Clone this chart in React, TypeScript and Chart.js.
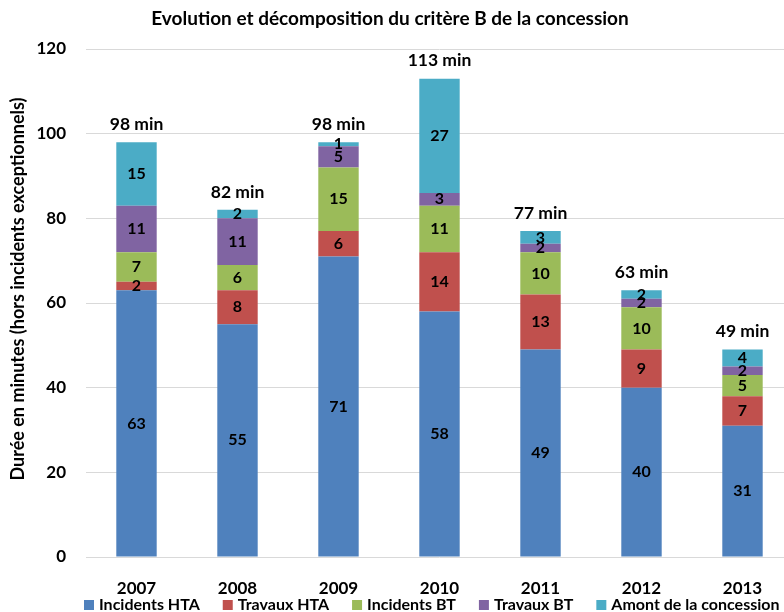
import React, { useEffect, useRef } from "react";
import { Chart, registerables } from "chart.js";

Chart.register(...registerables);

const years = ["2007", "2008", "2009", "2010", "2011", "2012", "2013"];
const incidentsHTA = [63, 55, 71, 58, 49, 40, 31];
const travauxHTA = [2, 8, 6, 14, 13, 9, 7];
const incidentsBT = [7, 6, 15, 11, 10, 10, 5];
const travauxBT = [11, 11, 5, 3, 2, 2, 2];
const amont = [15, 2, 1, 27, 3, 2, 4];
const totals = [98, 82, 98, 113, 77, 63, 49];
const yTicks = [0, 20, 40, 60, 80, 100, 120];

const seriesNames = ["Incidents HTA", "Travaux HTA", "Incidents BT", "Travaux BT", "Amont de la concession"];
const seriesColors = ["#4F81BD", "#C0504D", "#9BBB59", "#8064A2", "#4BACC6"];
const seriesData = [incidentsHTA, travauxHTA, incidentsBT, travauxBT, amont];

const chartTitle = "Evolution et décomposition du critère B de la concession";
const yTitle = "Durée en minutes (hors incidents exceptionnels)";
const FONT = "Lato, 'Open Sans', sans-serif";

const overlayPlugin = {
  id: "overlay",
  afterDatasetsDraw(chart: any) {
    const ctx = chart.ctx;
    ctx.save();
    ctx.fillStyle = "#000";
    ctx.textAlign = "center";
    ctx.textBaseline = "middle";
    ctx.font = `bold 16px ${FONT}`;
    chart.data.datasets.forEach((ds: any, di: number) => {
      const meta = chart.getDatasetMeta(di);
      meta.data.forEach((bar: any, i: number) => {
        const v = ds.data[i];
        const yMid = (bar.y + bar.base) / 2;
        ctx.fillText(String(v), bar.x, yMid);
      });
    });
    const yScale = chart.scales.y;
    const meta0 = chart.getDatasetMeta(0);
    ctx.font = `bold 17.5px ${FONT}`;
    totals.forEach((t, i) => {
      const x = meta0.data[i].x;
      const y = yScale.getPixelForValue(t) - 18;
      ctx.fillText(`${t} min`, x, y);
    });
    ctx.restore();
  },
  afterDraw(chart: any) {
    const ctx = chart.ctx;
    ctx.save();
    ctx.fillStyle = "#000";
    ctx.font = `bold 19px ${FONT}`;
    ctx.textAlign = "center";
    ctx.textBaseline = "middle";
    ctx.fillText(chartTitle, 390, 19);
    ctx.save();
    ctx.translate(18, 289);
    ctx.rotate(-Math.PI / 2);
    ctx.font = `bold 18px ${FONT}`;
    ctx.fillText(yTitle, 0, 0);
    ctx.restore();
    ctx.font = `bold 16px ${FONT}`;
    ctx.textAlign = "left";
    let x = 84;
    const y = 605;
    seriesNames.forEach((name, i) => {
      ctx.fillStyle = seriesColors[i];
      ctx.fillRect(x, y - 5, 10, 10);
      ctx.fillStyle = "#000";
      ctx.fillText(name, x + 15, y);
      x += 15 + ctx.measureText(name).width + 23;
    });
    ctx.restore();
  },
};

export default function App() {
  const ref = useRef<HTMLCanvasElement>(null);
  useEffect(() => {
    document.body.style.margin = "0";
    document.body.style.overflow = "hidden";
    const chart = new Chart(ref.current!, {
      type: "bar",
      data: {
        labels: years,
        datasets: seriesNames.map((name, i) => ({
          label: name,
          data: seriesData[i],
          backgroundColor: seriesColors[i],
          borderWidth: 0,
          categoryPercentage: 1,
          barPercentage: 0.4,
        })),
      },
      options: {
        animation: false,
        responsive: false,
        layout: { padding: { top: 49, right: 7, bottom: 0, left: 0 } },
        plugins: { legend: { display: false }, title: { display: false }, tooltip: { enabled: false } },
        scales: {
          x: {
            stacked: true,
            grid: { display: false },
            border: { display: false },
            ticks: { color: "#000", font: { family: FONT, weight: "bold", size: 17 }, padding: 13 },
            afterFit(scale: any) { scale.height = 55; },
          },
          y: {
            stacked: true,
            min: 0,
            max: 120,
            afterBuildTicks(scale: any) { scale.ticks = yTicks.map((v) => ({ value: v })); },
            grid: { color: "#D9D9D9", lineWidth: 1, drawTicks: false },
            border: { display: false },
            ticks: { color: "#000", font: { family: FONT, weight: "bold", size: 17 }, padding: 20 },
            afterFit(scale: any) { scale.width = 86; },
          },
        },
      },
      plugins: [overlayPlugin],
    });
    return () => chart.destroy();
  }, []);
  return (
    <div style={{ position: "absolute", left: 0, top: 0, width: 800, height: 612, background: "#fff" }}>
      <canvas ref={ref} width={800} height={612} />
    </div>
  );
}
